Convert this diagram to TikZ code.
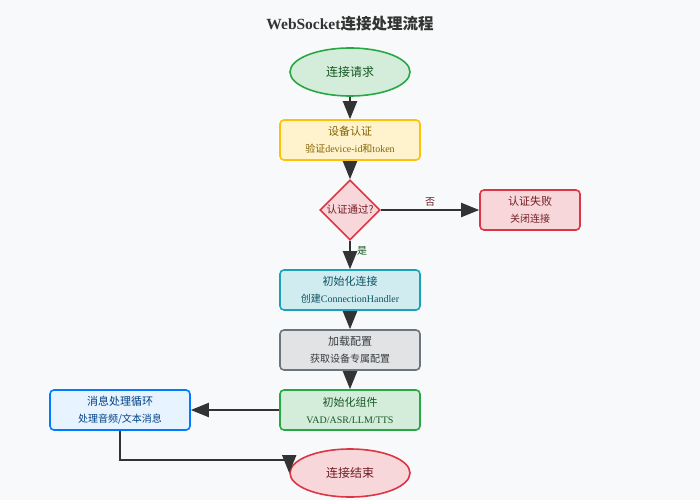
\documentclass[tikz,border=0pt]{standalone}
\usepackage{fontspec}
\setmainfont{Liberation Serif}
\newfontfamily\cjk{Noto Sans CJK SC}
\usepackage{tikz}
\usetikzlibrary{shapes,arrows,arrows.meta,positioning}
\definecolor{pagebg}{HTML}{F8F9FA}
\definecolor{arrowgray}{HTML}{333333}
\definecolor{greenfill}{HTML}{D4EDDA}
\definecolor{greenline}{HTML}{28A745}
\definecolor{greentext}{HTML}{155724}
\definecolor{yellowfill}{HTML}{FFF3CD}
\definecolor{yellowline}{HTML}{FFC107}
\definecolor{yellowtext}{HTML}{856404}
\definecolor{redfill}{HTML}{F8D7DA}
\definecolor{redline}{HTML}{DC3545}
\definecolor{redtext}{HTML}{721C24}
\definecolor{cyanfill}{HTML}{D1ECF1}
\definecolor{cyanline}{HTML}{17A2B8}
\definecolor{cyantext}{HTML}{0C5460}
\definecolor{grayfill}{HTML}{E2E3E5}
\definecolor{grayline}{HTML}{6C757D}
\definecolor{graytext}{HTML}{383D41}
\definecolor{bluefill}{HTML}{E7F3FF}
\definecolor{blueline}{HTML}{007BFF}
\definecolor{bluetext}{HTML}{004085}
\tikzstyle{stepbox} = [draw, line width=1.6pt, rounded corners=4pt, minimum width=140pt, minimum height=40pt, inner sep=0pt, align=center, font=\fontsize{11}{17}\selectfont]
\tikzstyle{termnode} = [draw, ellipse, line width=1.6pt, minimum width=120pt, minimum height=48pt, inner sep=0pt, font=\cjk\fontsize{12}{14}\selectfont]
\tikzstyle{decnode} = [draw=redline, diamond, line width=1.6pt, minimum width=60pt, minimum height=60pt, inner sep=0pt, fill=redfill, text=redtext, font=\cjk\fontsize{10.5}{12}\selectfont]
\tikzstyle{greenstep} = [fill=greenfill, draw=greenline, text=greentext]
\tikzstyle{yellowstep} = [fill=yellowfill, draw=yellowline, text=yellowtext]
\tikzstyle{redstep} = [fill=redfill, draw=redline, text=redtext]
\tikzstyle{cyanstep} = [fill=cyanfill, draw=cyanline, text=cyantext]
\tikzstyle{graystep} = [fill=grayfill, draw=grayline, text=graytext]
\tikzstyle{bluestep} = [fill=bluefill, draw=blueline, text=bluetext]
\tikzstyle{arrow} = [draw, line width=2pt, color=arrowgray, -{Triangle[length=18pt,width=14pt]}]
\tikzstyle{edgelabel} = [font=\cjk\fontsize{10}{12}\selectfont, inner sep=3pt]
\newcommand{\termnode}[3]{node (t#1) [termnode,#2] {#3}}
\newcommand{\stepnode}[3]{node (s#1) [stepbox,#2] {#3}}
\newcommand{\decnode}[2]{node (d#1) [decnode] {\makebox[0pt]{#2}}}
\newcommand{\sublabel}[1]{{\fontsize{10}{12}\selectfont #1}}

\begin{document}
\begin{tikzpicture}[x=1pt,y=1pt]
\fill[pagebg] (0,0) rectangle (700,-500);
\useasboundingbox (0,0) rectangle (700,-500);
\node (title) at (350,-24) [text=arrowgray] {\fontsize{15.5}{17}\selectfont\bfseries WebSocket{\cjk 连接处理流程}};

\path (350,-72) \termnode{1}{greenstep}{连接请求};
\path (t1)+(0,-68) \stepnode{1}{yellowstep}{{\cjk 设备认证}\\\sublabel{{\cjk 验证}device-id{\cjk 和}token}};
\path [arrow] (t1.south) -- (s1.north);
\path (s1)+(0,-70) \decnode{1}{认证通过?};
\path [arrow] (s1.south) -- (d1.north);
\path (d1)+(180,0) \stepnode{2}{redstep,minimum width=100pt}{{\cjk 认证失败}\\\sublabel{\cjk 关闭连接}};
\path [arrow] (d1.east) -- node[edgelabel,above,text=redtext] {否} (s2.west);

\path (d1)+(0,-80) \stepnode{3}{cyanstep}{{\cjk 初始化连接}\\\sublabel{{\cjk 创建}ConnectionHandler}};
\path [arrow] (d1.south) -- node[edgelabel,right,pos=0.35,xshift=3pt,text=greentext] {是} (s3.north);
\path (s3)+(0,-60) \stepnode{4}{graystep}{{\cjk 加载配置}\\\sublabel{\cjk 获取设备专属配置}};
\path [arrow] (s3.south) -- (s4.north);
\path (s4)+(0,-60) \stepnode{5}{greenstep}{{\cjk 初始化组件}\\\sublabel{VAD/ASR/LLM/TTS}};
\path [arrow] (s4.south) -- (s5.north);

\path (s5)+(-230,0) \stepnode{6}{bluestep}{{\cjk 消息处理循环}\\\sublabel{\cjk 处理音频/文本消息}};
\path [arrow] (s5.west) -- (s6.east);
\path (s5)+(0,-63) \termnode{2}{redstep}{连接结束};
\coordinate (bend) at ([yshift=13pt]t2.west);
\path [arrow] (s6.south) |- (bend) -- (t2.west);
\end{tikzpicture}
\end{document}
